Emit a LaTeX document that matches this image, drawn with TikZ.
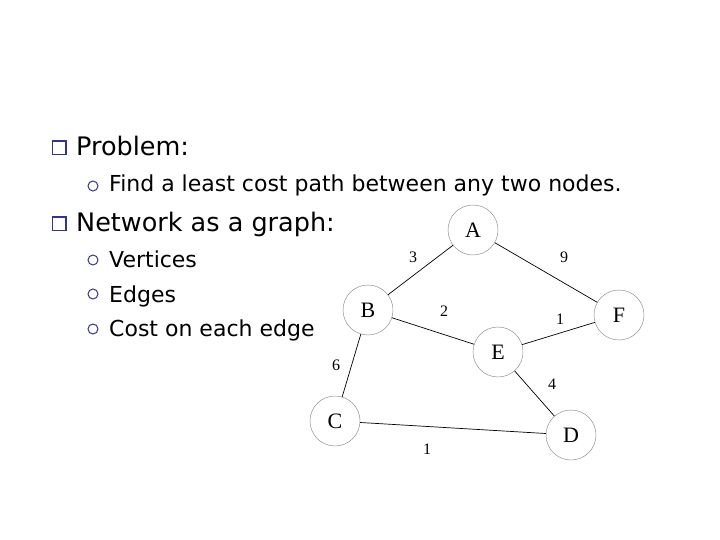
\documentclass[tikz,border=0pt]{standalone}
\usepackage{fontspec}
\setmainfont{Liberation Serif}
\newfontfamily\slidefont{DejaVu Sans}
\usetikzlibrary{positioning}
\definecolor{bulletblue}{HTML}{34348C}
\definecolor{ringgray}{HTML}{8A8A8A}
\tikzset{
  vertex/.style={circle, draw=ringgray, line width=0.45pt, minimum size=50pt, inner sep=0pt, font=\fontsize{22}{22}\selectfont},
  link/.style={black, line width=0.7pt},
  cost/.style={inner sep=0pt, font=\fontsize{16}{16}\selectfont},
  headtext/.style={anchor=base west, inner sep=0pt, font=\slidefont\fontsize{25.5}{25.5}\selectfont},
  subtext/.style={anchor=base west, inner sep=0pt, font=\slidefont\fontsize{22}{22}\selectfont},
  squarebullet/.style={draw=bulletblue, line width=1.1pt, minimum size=13pt, inner sep=0pt},
  ringbullet/.style={circle, draw=bulletblue, line width=1pt, minimum size=10pt, inner sep=0pt}
}
\begin{document}
\begin{tikzpicture}[x=1pt, y=-1pt]
  \useasboundingbox (0,0) rectangle (720,540);
  % bullet list
  \node[squarebullet] (sqProblem) at (59,148) {};
  \draw[bulletblue, line width=2.4pt] (sqProblem.north west) -- (sqProblem.north east) -- (sqProblem.south east);
  \node[headtext] (problem) at (76,156) {Problem:};
  \node[ringbullet] (rgFind) at (93,186) {};
  \node[subtext] (find) at (109,192) {Find a least cost path between any two nodes.};
  \node[squarebullet] (sqNetwork) at (59,224) {};
  \draw[bulletblue, line width=2.4pt] (sqNetwork.north west) -- (sqNetwork.north east) -- (sqNetwork.south east);
  \node[headtext] (network) at (76,232) {Network as a graph:};
  \node[ringbullet] (rgVertices) at (93,260) {};
  \node[subtext] (vertices) at (109,267) {Vertices};
  \node[ringbullet] (rgEdges) at (93,294) {};
  \node[subtext] (edges) at (109,302) {Edges};
  \node[ringbullet] (rgCost) at (93,329) {};
  \node[subtext] (costs) at (109,336) {Cost on each edge};
  % graph
  \node[vertex] (A) at (473,230) {A};
  \node[vertex] (B) at (368,310) {B};
  \node[vertex] (F) at (619,315) {F};
  \node[vertex] (E) at (498,352) {E};
  \node[vertex] (C) at (335,421) {C};
  \node[vertex] (D) at (571,435) {D};
  \draw[link] (A) -- (B);
  \draw[link] (A) -- (F);
  \draw[link] (B) -- (E);
  \draw[link] (E) -- (F);
  \draw[link] (B) -- (C);
  \draw[link] (E) -- (D);
  \draw[link] (C) -- (D);
  \node[cost] (cAB) at (413,257) {3};
  \node[cost] (cAF) at (564,257) {9};
  \node[cost] (cBE) at (444,311) {2};
  \node[cost] (cEF) at (560,319) {1};
  \node[cost] (cBC) at (336,365) {6};
  \node[cost] (cED) at (552,384) {4};
  \node[cost] (cCD) at (427,449) {1};
\end{tikzpicture}
\end{document}
